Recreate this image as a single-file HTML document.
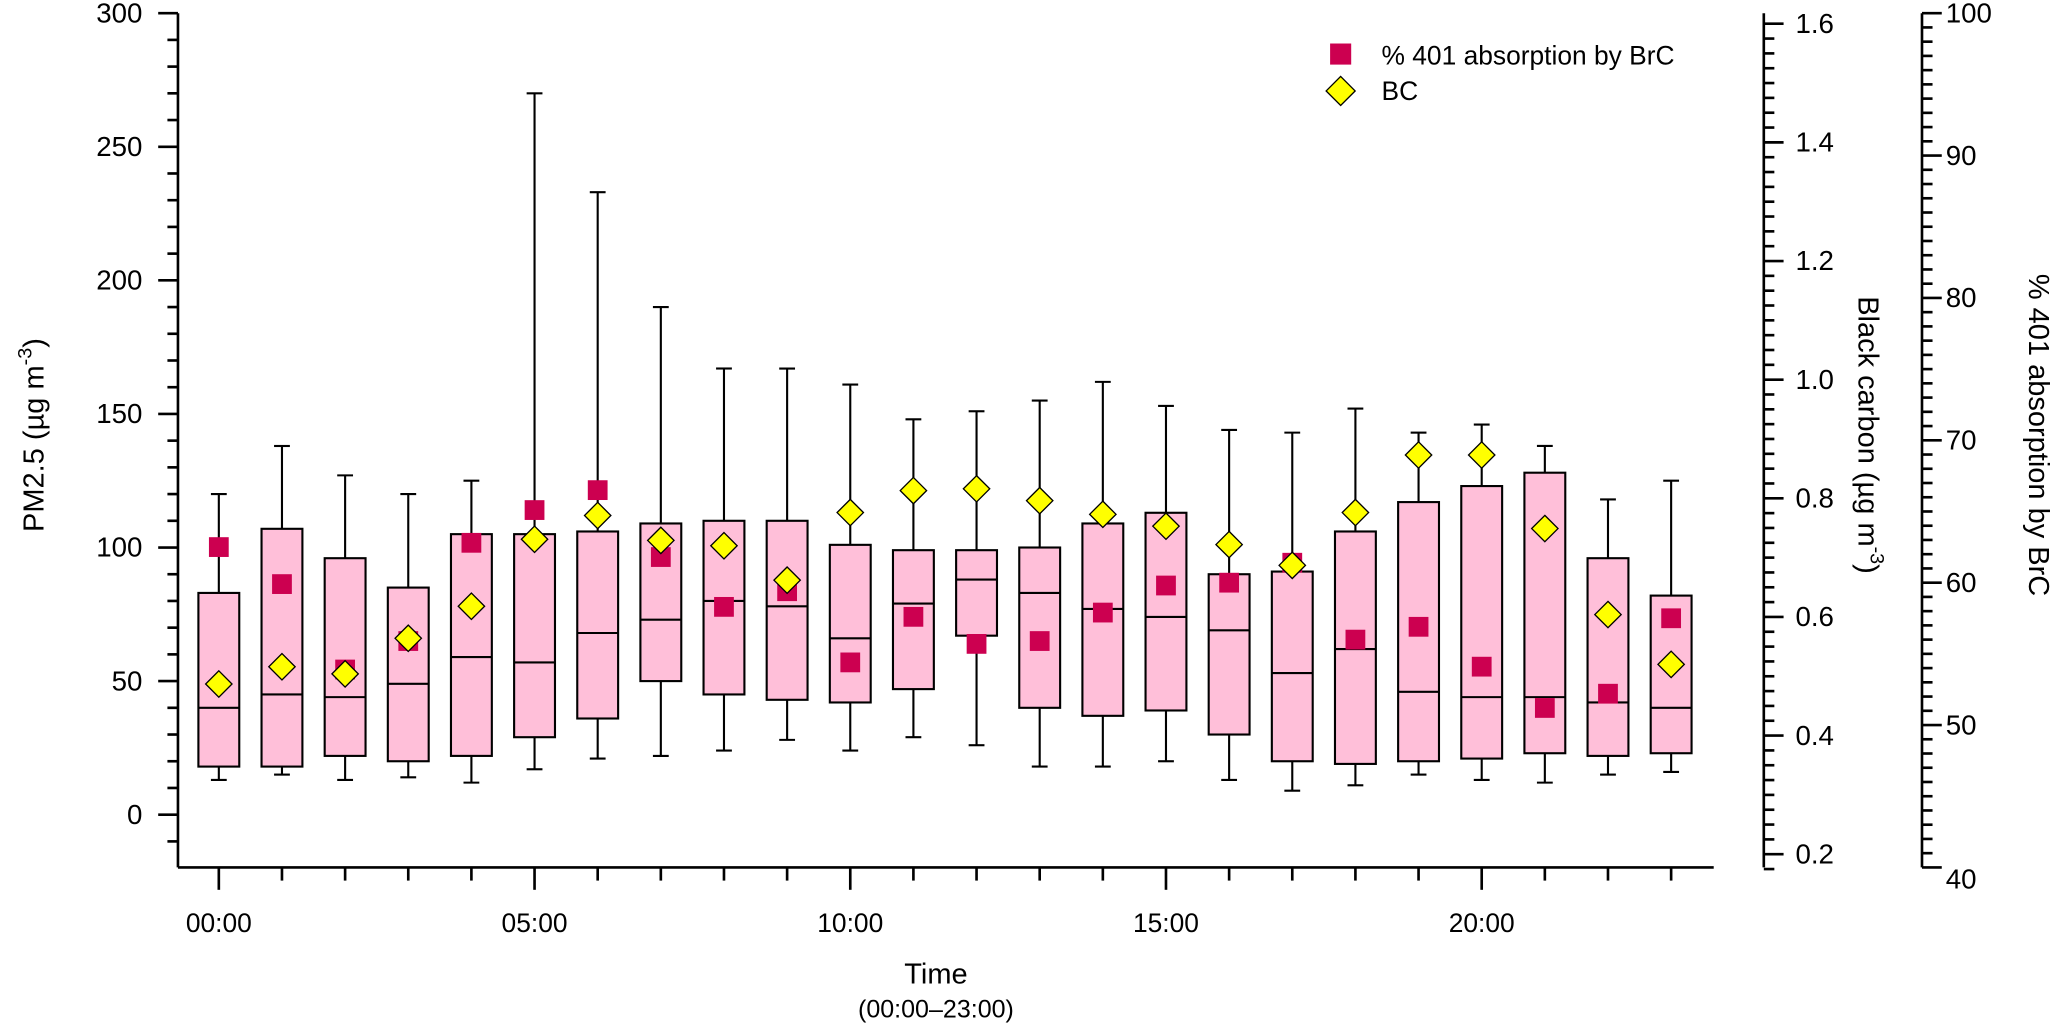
<!DOCTYPE html>
<html><head><meta charset="utf-8"><style>
html,body{margin:0;padding:0;background:#fff}
svg{display:block}
text{font-family:"Liberation Sans",Arial,sans-serif;fill:#000}
</style></head><body>
<svg id="chart" xmlns="http://www.w3.org/2000/svg" width="2067" height="1026" viewBox="0 0 1568 778.3">
<g id="axes"></g>
<g id="boxes"></g>
<g id="marks"></g>
<g>
  <rect x="1009" y="33" width="16" height="16" fill="#cc0050"/>
  <text x="1048" y="49" font-size="20">% 401 absorption by BrC</text>
  <polygon points="1017,58 1028,69 1017,80 1006,69" fill="#ffff00" stroke="#000" stroke-width="1"/>
  <text x="1048" y="76" font-size="20">BC</text>
</g>
<text transform="translate(33,330) rotate(-90)" text-anchor="middle" font-size="22">PM2.5 (µg m<tspan dy="-9" font-size="15">-3</tspan><tspan dy="9">)</tspan></text>
<text transform="translate(1410,330) rotate(90)" text-anchor="middle" font-size="22">Black carbon (µg m<tspan dy="-9" font-size="15">-3</tspan><tspan dy="9">)</tspan></text>
<text transform="translate(1539,330) rotate(90)" text-anchor="middle" font-size="22">% 401 absorption by BrC</text>
<text x="710" y="746" text-anchor="middle" font-size="22">Time</text>
<text x="710" y="772" text-anchor="middle" font-size="19">(00:00–23:00)</text>
</svg>
<script>
const hours=[0,1,2,3,4,5,6,7,8,9,10,11,12,13,14,15,16,17,18,19,20,21,22,23];
const whiskerHigh=[120,138,127,120,125,270,233,190,167,167,161,148,151,155,162,153,144,143,152,143,146,138,118,125];
const q3=[83,107,96,85,105,105,106,109,110,110,101,99,99,100,109,113,90,91,106,117,123,128,96,82];
const median=[40,45,44,49,59,57,68,73,80,78,66,79,88,83,77,74,69,53,62,46,44,44,42,40];
const q1=[18,18,22,20,22,29,36,50,45,43,42,47,67,40,37,39,30,20,19,20,21,23,22,23];
const whiskerLow=[13,15,13,14,12,17,21,22,24,28,24,29,26,18,18,20,13,9,11,15,13,12,15,16];
const brcPct=[62.5,59.9,53.9,55.9,62.8,65.1,66.5,61.8,58.3,59.4,54.4,57.6,55.7,55.9,57.9,59.8,60.0,61.4,56.0,56.9,54.1,51.2,52.2,57.5];
const bc=[0.487,0.516,0.504,0.564,0.618,0.731,0.771,0.729,0.72,0.662,0.776,0.813,0.816,0.796,0.773,0.753,0.722,0.687,0.776,0.873,0.873,0.749,0.604,0.52];
const xTickLabels=["00:00","05:00","10:00","15:00","20:00"];

const NS="http://www.w3.org/2000/svg";
const yPM=v=>618-(v)*2.0267;
const yBC=v=>648-(v-0.2)*450;
const yPct=v=>10+(100-v)*10.8;
const xH=h=>166+h*47.9;
function mk(tag,attrs,parent){const e=document.createElementNS(NS,tag);for(const k in attrs)e.setAttribute(k,attrs[k]);parent.appendChild(e);return e;}
const ax=document.getElementById('axes');
const S={stroke:'#000','stroke-width':2};
let e=mk('line',Object.assign({x1:135,y1:10,x2:135,y2:658},S),ax);


for(let v=-10;v<=300;v+=10){const maj=v%50===0;const y=yPM(v);
 mk('line',Object.assign({x1:maj?120:127,y1:y,x2:135,y2:y},S),ax);
 if(maj){const t=mk('text',{x:108,y:y+7,'text-anchor':'end','font-size':21},ax);t.textContent=v;
 
 }}
e=mk('line',Object.assign({x1:135,y1:658,x2:1300,y2:658},S),ax);


hours.forEach(h=>{const x=xH(h);const maj=h%5===0;mk('line',Object.assign({x1:x,y1:658,x2:x,y2:maj?675:668},S),ax);});
xTickLabels.forEach((l,i)=>{const t=mk('text',{x:xH(i*5),y:707,'text-anchor':'middle','font-size':20},ax);t.textContent=l;
 
 });
e=mk('line',Object.assign({x1:1338,y1:10,x2:1338,y2:658},S),ax);


for(let i=0;i<=57;i++){const v=0.175+i*0.025;const y=yBC(v);if(y<9)break;const maj=Math.abs(v*10-Math.round(v*10))<1e-6&&Math.round(v*10)%2===0;
 mk('line',Object.assign({x1:1338,y1:y,x2:maj?1353:1346,y2:y},S),ax);
 if(maj){const t=mk('text',{x:1362,y:y+7,'font-size':21},ax);t.textContent=v.toFixed(1);
 
 }}
e=mk('line',Object.assign({x1:1458,y1:10,x2:1458,y2:658},S),ax);


for(let v=40;v<=100;v++){const y=yPct(v);const maj=v%10===0;
 mk('line',Object.assign({x1:1458,y1:y,x2:maj?1473:1466,y2:y},S),ax);
 if(maj){const t=mk('text',{x:1476,y:v===40?y+16:y+7,'font-size':21},ax);t.textContent=v;
 
 }}
const bx=document.getElementById('boxes');
hours.forEach((h,i)=>{const x=xH(h),w=31;
 const g=mk('g',{},bx);
 
 
 mk('line',{x1:x,y1:yPM(whiskerHigh[i]),x2:x,y2:yPM(q3[i]),stroke:'#000','stroke-width':1.6},g);
 mk('line',{x1:x,y1:yPM(q1[i]),x2:x,y2:yPM(whiskerLow[i]),stroke:'#000','stroke-width':1.6},g);
 mk('line',{x1:x-6,y1:yPM(whiskerHigh[i]),x2:x+6,y2:yPM(whiskerHigh[i]),stroke:'#000','stroke-width':1.6},g);
 mk('line',{x1:x-6,y1:yPM(whiskerLow[i]),x2:x+6,y2:yPM(whiskerLow[i]),stroke:'#000','stroke-width':1.6},g);
 mk('rect',{x:x-w/2,y:yPM(q3[i]),width:w,height:yPM(q1[i])-yPM(q3[i]),fill:'#ffbfd9',stroke:'#000','stroke-width':1.6},g);
 mk('line',{x1:x-w/2,y1:yPM(median[i]),x2:x+w/2,y2:yPM(median[i]),stroke:'#000','stroke-width':1.6},g);
});
const mg=document.getElementById('marks');
hours.forEach((h,i)=>{const x=xH(h);
 const s=mk('rect',{x:x-7.5,y:yPct(brcPct[i])-7.5,width:15,height:15,fill:'#cc0050'},mg);
 
 
});
hours.forEach((h,i)=>{const x=xH(h),y=yBC(bc[i]);
 const d=mk('polygon',{points:`${x},${y-10} ${x+10},${y} ${x},${y+10} ${x-10},${y}`,fill:'#ffff00',stroke:'#000','stroke-width':1},mg);
 
 
});
</script>
</body></html>
